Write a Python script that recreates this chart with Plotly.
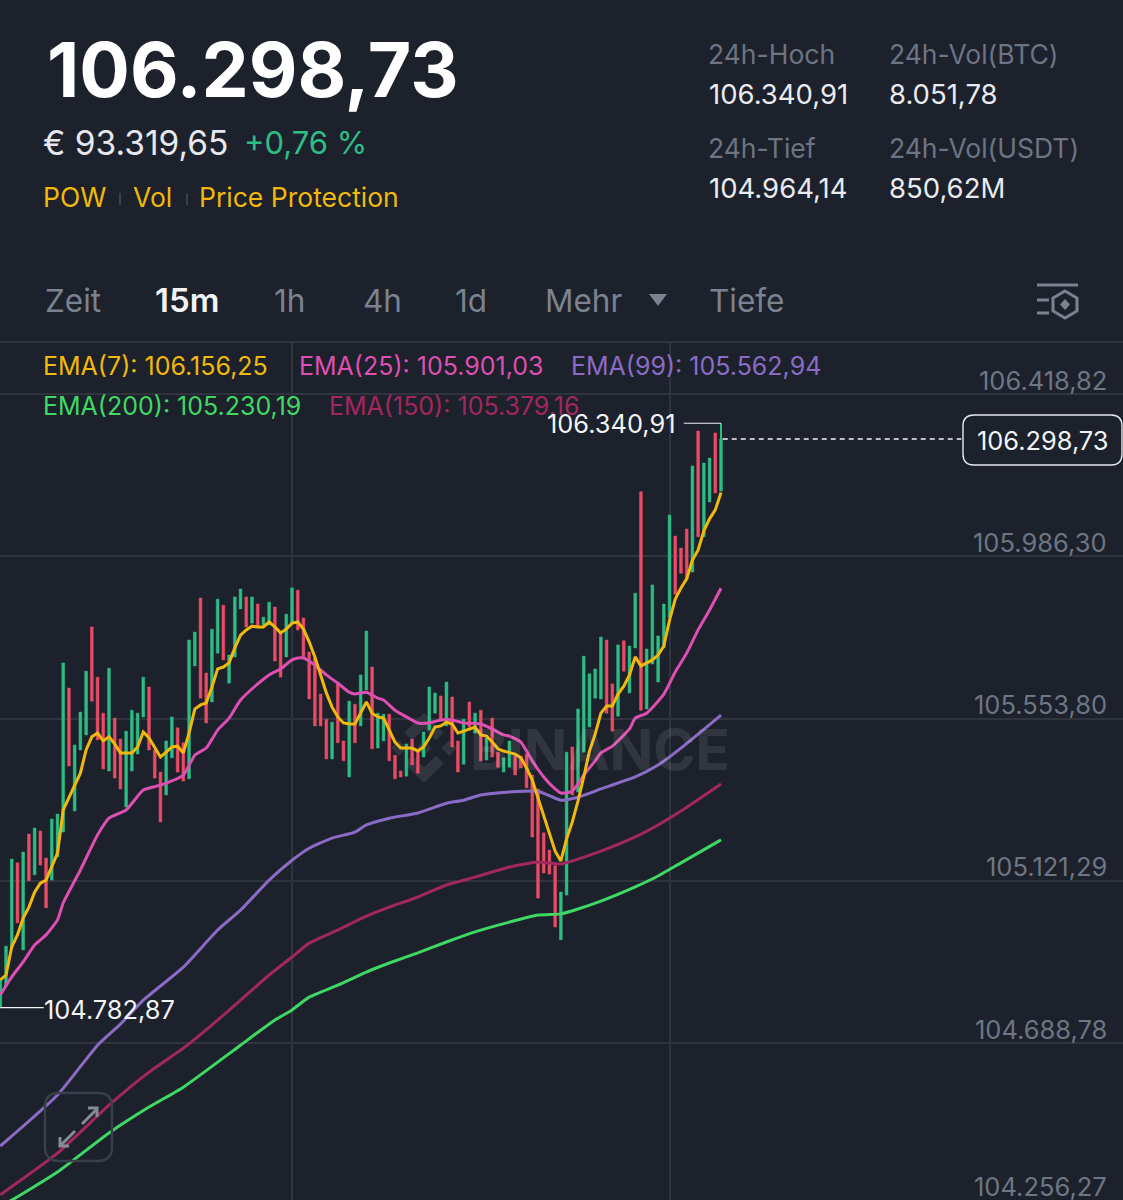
import plotly.graph_objects as go

W = 1123
H = 1200
FONT = "Inter"

BG = "#1c212b"
UP = "#2ebd85"
DOWN = "#ea4c67"
GRID = "#2f343e"
GREY = "#7b8290"
AXIS_GREY = "#6f7683"

# 15m candles, oldest first
candle_open = [
    104783, 104841, 104945, 105169, 104937, 105246, 105137, 105254, 105182, 105123,
    105185, 105251, 105635, 105307, 105470, 105510, 105798, 105664, 105568, 105414,
    105555, 105499, 105318, 105414, 105459, 105558, 105638, 105470, 105411, 105350,
    105449, 105529, 105489, 105393, 105694, 105875, 105675, 105598, 105728, 105856,
    105648, 105718, 105846, 105878, 105808, 105859, 105803, 105803, 105851, 105782,
    105718, 105808, 105896, 105822, 105731, 105715, 105619, 105552, 105446, 105651,
    105494, 105398, 105592, 105534, 105630, 105691, 105475, 105494, 105565, 105456,
    105414, 105400, 105499, 105470, 105451, 105523, 105568, 105614, 105534, 105611,
    105494, 105432, 105598, 105515, 105576, 105443, 105555, 105464, 105411, 105424,
    105454, 105454, 105459, 105403, 105366, 105249, 105203, 105161, 104964, 105083,
    105478, 105358, 105464, 105531, 105608, 105606, 105763, 105646, 105560, 105761,
    105622, 105742, 106158, 105579, 105699, 105651, 105742, 105824, 106040, 106008,
    106059, 105944, 106320, 106038, 106131, 106315, 106160,
]
candle_close = [
    104857, 104947, 105179, 105009, 105198, 105121, 105262, 105163, 105049, 105286,
    105299, 105702, 105427, 105483, 105571, 105680, 105600, 105497, 105419, 105688,
    105395, 105366, 105520, 105576, 105568, 105664, 105470, 105395, 105278, 105494,
    105558, 105411, 105387, 105763, 105784, 105608, 105542, 105792, 105872, 105710,
    105723, 105878, 105899, 105798, 105878, 105798, 105824, 105864, 105707, 105664,
    105832, 105902, 105790, 105718, 105606, 105534, 105534, 105446, 105544, 105489,
    105441, 105600, 105489, 105670, 105787, 105473, 105568, 105565, 105441, 105393,
    105398, 105486, 105430, 105408, 105518, 105638, 105622, 105550, 105651, 105478,
    105411, 105552, 105531, 105568, 105441, 105502, 105451, 105424, 105449, 105494,
    105403, 105422, 105369, 105238, 105075, 105142, 105139, 104998, 105091, 105464,
    105350, 105579, 105720, 105673, 105686, 105771, 105568, 105520, 105750, 105680,
    105747, 105888, 105576, 105739, 105910, 105774, 105859, 106096, 105885, 105941,
    105926, 106227, 106038, 106235, 106248, 106155, 106298.73,
]
high_price = 106340.91
low_price = 104782.87
last_price = 106298.73

ema7 = [
    104857, 104870, 104945, 104977, 105022, 105051, 105091, 105115, 105123, 105158,
    105195, 105310, 105344, 105376, 105408, 105470, 105505, 105515, 105494, 105505,
    105486, 105462, 105462, 105462, 105478, 105518, 105502, 105475, 105451, 105464,
    105478, 105480, 105462, 105515, 105579, 105590, 105595, 105638, 105686, 105691,
    105702, 105742, 105776, 105790, 105800, 105798, 105798, 105811, 105798, 105782,
    105792, 105808, 105811, 105792, 105758, 105718, 105670, 105622, 105584, 105558,
    105542, 105539, 105539, 105568, 105598, 105568, 105558, 105555, 105523, 105491,
    105475, 105475, 105475, 105467, 105478, 105502, 105531, 105534, 105544, 105539,
    105515, 105520, 105526, 105531, 105510, 105507, 105491, 105473, 105467, 105464,
    105459, 105449, 105422, 105390, 105342, 105297, 105246, 105200, 105174, 105233,
    105278, 105334, 105398, 105467, 105512, 105568, 105587, 105587, 105619, 105640,
    105670, 105718, 105694, 105702, 105710, 105723, 105747, 105816, 105872, 105902,
    105926, 105976, 106003, 106054, 106086, 106110, 106156.25,
]

ema25_idx = [0, 2, 4, 6, 8, 10, 11, 14, 17, 19, 22, 25, 28, 32, 34, 36, 38, 40, 42, 45, 47, 49,
             51, 52, 53, 55, 57, 59, 61, 62, 63, 64, 66, 67, 69, 71, 73, 75, 77, 79, 81, 84,
             86, 88, 89, 91, 93, 95, 97, 98, 100, 102, 104, 105, 107, 110, 111, 113, 116,
             118, 120, 122, 124, 126]
ema25 = [104817, 104865, 104905, 104950, 104977, 105017, 105062, 105150, 105243, 105288, 105310,
         105363, 105376, 105403, 105456, 105475, 105523, 105555, 105603, 105646, 105670, 105686,
         105710, 105715, 105715, 105696, 105670, 105648, 105624, 105619, 105622, 105624, 105608,
         105603, 105576, 105558, 105542, 105542, 105550, 105550, 105542, 105539, 105526, 105510,
         105507, 105491, 105441, 105398, 105366, 105355, 105360, 105403, 105441, 105462, 105480,
         105526, 105555, 105568, 105619, 105678, 105728, 105790, 105843, 105901.03]

ema99_idx = [0, 10, 17, 21, 25, 32, 38, 42, 47, 51, 54, 58, 62, 64, 68, 73, 78, 81, 84, 89, 94,
             98, 101, 105, 111, 115, 119, 126]
ema99 = [104414, 104550, 104683, 104739, 104803, 104891, 104990, 105043, 105123, 105176, 105208,
         105235, 105251, 105270, 105288, 105302, 105328, 105336, 105350, 105358, 105360, 105336,
         105344, 105366, 105398, 105430, 105475, 105562.94]

ema150_idx = [0, 10, 19, 26, 32, 38, 42, 47, 51, 54, 59, 64, 68, 73, 78, 83, 89, 94, 98, 101,
              105, 111, 115, 119, 126]
ema150 = [104284, 104395, 104523, 104611, 104675, 104750, 104803, 104870, 104918, 104955, 104990,
          105027, 105051, 105078, 105110, 105131, 105158, 105171, 105166, 105179, 105200, 105238,
          105270, 105307, 105379.16]

ema200_idx = [0, 2, 10, 19, 26, 32, 42, 48, 51, 54, 59, 64, 68, 73, 78, 83, 89, 94, 98, 101, 105,
              111, 115, 119, 126]
ema200 = [104254, 104270, 104345, 104449, 104518, 104571, 104683, 104750, 104777, 104811, 104843,
          104878, 104902, 104929, 104958, 104985, 105011, 105030, 105033, 105046, 105067, 105105,
          105134, 105169, 105230.19]

price_grid = [106418.82, 105986.30, 105553.80, 105121.29, 104688.78, 104256.27]
time_grid = [51, 117]
tabs = ["Zeit", "15m", "1h", "4h", "1d", "Mehr", "Tiefe"]

candle_idx = list(range(len(candle_open)))

# screen scales
PX_PER_CANDLE = 5.72
PRICE_PER_PX = 2.6657
CHART_TOP = 343
TOP_PRICE = price_grid[0] + (394 - CHART_TOP) * PRICE_PER_PX


def de(v):
    # 106298.73 -> 106.298,73
    return f"{v:,.2f}".replace(",", "#").replace(".", ",").replace("#", ".")


def px(x):
    return x / W


def py(y):
    return 1 - y / H


fig = go.Figure()

fig.add_trace(go.Candlestick(
    x=candle_idx,
    open=candle_open,
    close=candle_close,
    high=[max(o, c) for o, c in zip(candle_open, candle_close)],
    low=[min(o, c) for o, c in zip(candle_open, candle_close)],
    increasing=dict(line=dict(color=UP, width=0.5), fillcolor=UP),
    decreasing=dict(line=dict(color=DOWN, width=0.5), fillcolor=DOWN),
    whiskerwidth=0,
    showlegend=False,
))
# upper wick of the running candle
fig.add_trace(go.Scatter(x=[candle_idx[-1]] * 2, y=[last_price, high_price], mode="lines",
                         line=dict(color=UP, width=2), showlegend=False))

fig.add_trace(go.Scatter(x=ema200_idx, y=ema200, mode="lines", showlegend=False,
                         line=dict(color="#3fd864", width=3, shape="spline", smoothing=0.5)))
fig.add_trace(go.Scatter(x=ema150_idx, y=ema150, mode="lines", showlegend=False,
                         line=dict(color="#a3275f", width=3, shape="spline", smoothing=0.5)))
fig.add_trace(go.Scatter(x=ema99_idx, y=ema99, mode="lines", showlegend=False,
                         line=dict(color="#8a6cc6", width=3, shape="spline", smoothing=0.5)))
fig.add_trace(go.Scatter(x=ema25_idx, y=ema25, mode="lines", showlegend=False,
                         line=dict(color="#dd4fb2", width=3, shape="spline", smoothing=0.5)))
fig.add_trace(go.Scatter(x=candle_idx, y=ema7, mode="lines", showlegend=False,
                         line=dict(color="#f0b90b", width=3)))

notes = []
shapes = []


def text(s, x, y, size, color, anchor="left", weight=400):
    # left-anchored annotations land about 2px to the right of x
    if anchor == "left":
        x -= 2
    notes.append(dict(text=s, x=px(x), y=py(y), xref="paper", yref="paper", showarrow=False,
                      xanchor=anchor, yanchor="middle", borderpad=0,
                      font=dict(family=FONT, size=size, color=color, weight=weight)))


def path(points, close=True, **kw):
    d = "M " + " L ".join(f"{px(a):.5f},{py(b):.5f}" for a, b in points) + (" Z" if close else "")
    shapes.append(dict(type="path", path=d, xref="paper", yref="paper", **kw))


def round_box(x0, y0, x1, y1, r, **kw):
    d = (f"M {px(x0 + r)},{py(y0)} L {px(x1 - r)},{py(y0)} Q {px(x1)},{py(y0)} {px(x1)},{py(y0 + r)} "
         f"L {px(x1)},{py(y1 - r)} Q {px(x1)},{py(y1)} {px(x1 - r)},{py(y1)} "
         f"L {px(x0 + r)},{py(y1)} Q {px(x0)},{py(y1)} {px(x0)},{py(y1 - r)} "
         f"L {px(x0)},{py(y0 + r)} Q {px(x0)},{py(y0)} {px(x0 + r)},{py(y0)} Z")
    shapes.append(dict(type="path", path=d, xref="paper", yref="paper", **kw))


# header
text(de(last_price), 48, 69, 75, "#ffffff", weight=700)
text("€ 93.319,65", 44, 143, 33.5, "#e6e8ee")
text("+0,76 %", 245, 143, 31, UP)
text("POW", 44, 197, 26.5, "#f0b90b")
text("Vol", 134, 197, 26.5, "#f0b90b")
text("Price Protection", 200, 197, 26.5, "#f0b90b")
for sx in [120, 187]:
    path([(sx - 1, 193), (sx + 1, 193), (sx + 1, 205), (sx - 1, 205)], fillcolor="#3a404b", line_width=0)

text("24h-Hoch", 709, 54, 26.5, "#6d7482")
text(de(high_price), 710, 94, 27.5, "#e9ebf0")
text("24h-Vol(BTC)", 890, 54, 26.5, "#6d7482")
text("8.051,78", 890, 94, 27.5, "#e9ebf0")
text("24h-Tief", 709, 148, 26.5, "#6d7482")
text("104.964,14", 710, 188, 27.5, "#e9ebf0")
text("24h-Vol(USDT)", 890, 148, 26.5, "#6d7482")
text("850,62M", 890, 188, 27.5, "#e9ebf0")

# interval tabs
for label, tx in zip(tabs, [46, 156, 275, 364, 456, 546, 710]):
    if label == "15m":
        text(label, tx, 300, 33, "#f2f3f5", weight=600)
    else:
        text(label, tx, 300, 31.5, GREY)
path([(649, 294), (667, 294), (658, 306)], fillcolor=GREY, line_width=0)

# settings icon
icon = dict(color=GREY, width=3)
path([(1037, 285), (1078, 285)], close=False, line=icon)
path([(1037, 300), (1049, 300)], close=False, line=icon)
path([(1037, 313), (1049, 313)], close=False, line=icon)
path([(1065, 291), (1077, 298), (1077, 311), (1065, 318), (1053, 311), (1053, 298)], line=icon)
path([(1065, 299), (1070, 304.5), (1065, 310), (1060, 304.5)], fillcolor=GREY, line_width=0)

# EMA readout
text(f"EMA(7): {de(ema7[-1])}", 44, 366, 25, "#f0b90b")
text(f"EMA(25): {de(ema25[-1])}", 300, 366, 25, "#dd4fb2")
text(f"EMA(99): {de(ema99[-1])}", 572, 366, 25, "#8a6cc6")
text(f"EMA(200): {de(ema200[-1])}", 44, 406, 25, "#3fd864")
text(f"EMA(150): {de(ema150[-1])}", 330, 406, 25, "#a3275f")

# price scale, labels sit just above their gridline
for p in price_grid:
    label_y = CHART_TOP + (TOP_PRICE - p) / PRICE_PER_PX - 14
    text(de(p), 1108, min(label_y, 1186), 25.5, AXIS_GREY, anchor="right")

# watermark
mark = "rgba(255,255,255,0.095)"
cx, cy, r = 424, 748, 35
logo = [
    [(0, -0.22), (0.22, 0), (0, 0.22), (-0.22, 0)],
    [(-0.72, -0.22), (-0.5, 0), (-0.72, 0.22), (-0.94, 0)],
    [(0.72, -0.22), (0.94, 0), (0.72, 0.22), (0.5, 0)],
    [(0, -1), (0.56, -0.44), (0.34, -0.22), (0, -0.56), (-0.34, -0.22), (-0.56, -0.44)],
    [(0, 1), (0.56, 0.44), (0.34, 0.22), (0, 0.56), (-0.34, 0.22), (-0.56, 0.44)],
]
for part in logo:
    path([(cx + a * r, cy + b * r) for a, b in part], fillcolor=mark, line_width=0, layer="below")
text("BINANCE", 471, 749, 57, mark, weight=700)

# session high / low markers
text(de(high_price), 677, 424, 25.4, "#f2f3f5", anchor="right")
shapes.append(dict(type="line", xref="x", yref="y", x0=119.5, x1=candle_idx[-1], y0=high_price, y1=high_price,
                   line=dict(color="#f2f3f5", width=1.2)))
text(de(low_price), 45, 1009, 25.4, "#f2f3f5")
shapes.append(dict(type="line", xref="x", yref="y", x0=0, x1=7.6, y0=low_price, y1=low_price,
                   line=dict(color="#f2f3f5", width=1.2)))

# last price marker
shapes.append(dict(type="line", xref="x", yref="y", x0=candle_idx[-1] + 0.3, x1=168, y0=last_price, y1=last_price,
                   line=dict(color="#f2f3f5", width=1.4, dash="5px,4px")))
round_box(963, 415, 1122, 465, 11, line=dict(color="#e6e8ee", width=1.4), fillcolor=BG)
text(de(last_price), 1043, 440, 25.4, "#f2f3f5", anchor="center")

# expand button
round_box(45, 1093, 112, 1161, 14, line=dict(color="#3a404b", width=2.4))
arrow = dict(color="#868c96", width=3)
path([(82, 1124), (97, 1109)], close=False, line=arrow)
path([(88, 1108), (97, 1108), (97, 1117)], close=False, line=arrow)
path([(75, 1131), (60, 1146)], close=False, line=arrow)
path([(60, 1137), (60, 1146), (69, 1146)], close=False, line=arrow)

fig.update_layout(
    width=W,
    height=H,
    margin=dict(l=0, r=0, t=0, b=0),
    paper_bgcolor=BG,
    plot_bgcolor=BG,
    showlegend=False,
    annotations=notes,
    shapes=shapes,
    xaxis=dict(
        domain=[0, 1],
        range=[-0.3 / PX_PER_CANDLE, (W - 0.3) / PX_PER_CANDLE],
        rangeslider=dict(visible=False),
        side="top",
        tickmode="array",
        tickvals=time_grid,
        showticklabels=False,
        ticks="",
        showgrid=True,
        gridcolor=GRID,
        gridwidth=1.5,
        zeroline=False,
        showline=True,
        linecolor=GRID,
        linewidth=1.5,
    ),
    yaxis=dict(
        domain=[0, 1 - CHART_TOP / H],
        range=[TOP_PRICE - (H - CHART_TOP) * PRICE_PER_PX, TOP_PRICE],
        tickmode="array",
        tickvals=price_grid,
        showticklabels=False,
        ticks="",
        showgrid=True,
        gridcolor=GRID,
        gridwidth=1.5,
        zeroline=False,
        showline=False,
    ),
)

fig.write_html("out.html", config=dict(displayModeBar=False),
               post_script="document.body.style.margin='0';document.body.style.background='" + BG + "';")
